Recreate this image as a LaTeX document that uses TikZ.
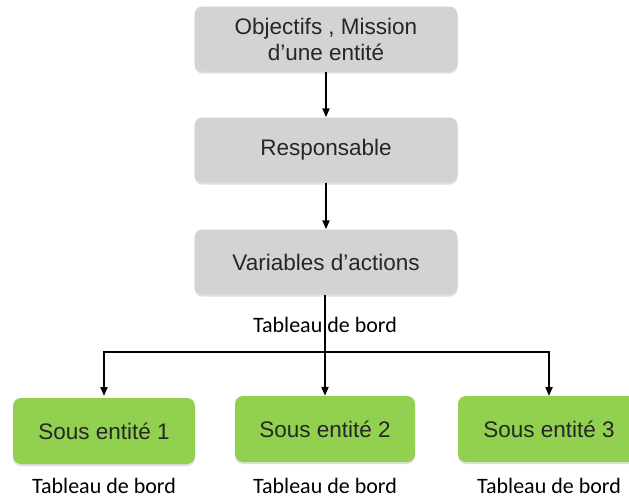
\documentclass[tikz,border=0pt]{standalone}
\usepackage{fontspec}
\setmainfont{Liberation Sans}
\newfontfamily\labelfont{Carlito}
\usetikzlibrary{arrows.meta,shadows}
\definecolor{boxgray}{HTML}{D3D3D3}
\definecolor{boxgreen}{HTML}{92D050}
\definecolor{txtdark}{HTML}{262626}
\tikzset{
  gbox/.style={rectangle, rounded corners=8pt, fill=boxgray, text=txtdark,
    minimum width=263pt, minimum height=65pt, align=center,
    font=\fontsize{22.5}{26}\selectfont, inner sep=0pt,
    drop shadow={shadow xshift=0pt, shadow yshift=-2pt, opacity=0.25}},
  sbox/.style={rectangle, rounded corners=8pt, fill=boxgreen, text=txtdark,
    minimum height=66pt, align=center,
    font=\fontsize{22.5}{26}\selectfont, inner sep=0pt,
    drop shadow={shadow xshift=0pt, shadow yshift=-2pt, opacity=0.25}},
  tlabel/.style={font=\labelfont\fontsize{22}{24}\selectfont, text=black, inner sep=0pt},
  arr/.style={line width=2pt, -{Triangle[length=9pt,width=7pt]}},
  ln/.style={line width=2pt}
}
\begin{document}
\begin{tikzpicture}[x=1pt,y=-1pt]
\useasboundingbox (0,0) rectangle (629,499);
% main chain
\node[gbox] (g1) at (326,39) {Objectifs , Mission\\d’une entité};
\node[gbox] (g2) at (326,150) {Responsable};
\node[gbox] (g3) at (326,262) {Variables d’actions};
% sub-entities
\node[sbox, minimum width=182pt] (s1) at (104,431) {Sous entité 1};
\node[sbox, minimum width=180pt] (s2) at (325,429) {Sous entité 2};
\node[sbox, minimum width=182pt] (s3) at (549,429) {Sous entité 3};
% labels
\node[tlabel] (t0) at (325,325) {Tableau de bord};
\node[tlabel] (t1) at (104,486) {Tableau de bord};
\node[tlabel] (t2) at (325,486) {Tableau de bord};
\node[tlabel] (t3) at (549,486) {Tableau de bord};
% connectors
\draw[arr] (g1.south) -- (g2.north);
\draw[arr] (g2.south) -- (g3.north);
\coordinate (bar) at (325,352);
\coordinate (lt) at (104,396);
\coordinate (rt) at (549,396);
\draw[arr] (g3.south -| s2.north) -- (s2.north);
\draw[arr] (bar) -| (lt);
\draw[arr] (bar) -| (rt);
\end{tikzpicture}
\end{document}
